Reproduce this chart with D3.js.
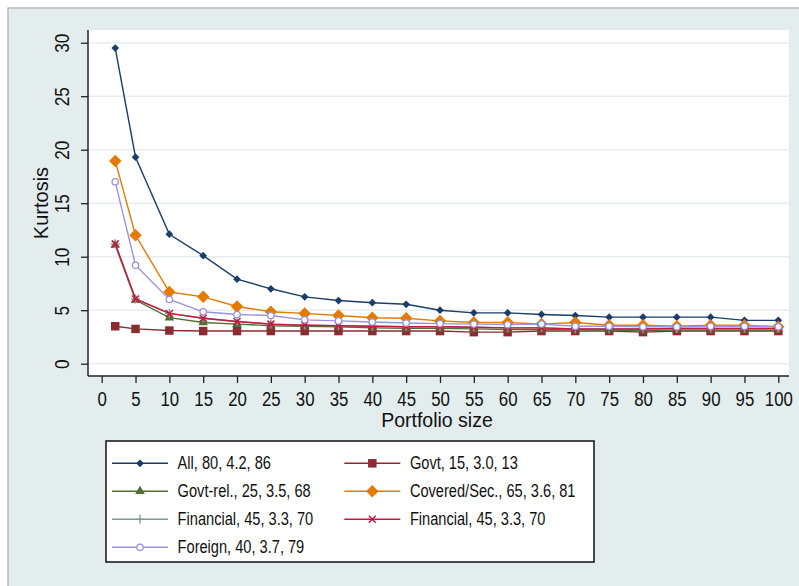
<!DOCTYPE html>
<html>
<head>
<meta charset="utf-8">
<script src="https://cdn.jsdelivr.net/npm/d3@7"></script>
<style>
  body { margin: 0; background: #ffffff; }
  svg text { font-family: "Liberation Sans", Arial, sans-serif; fill: #111; }
</style>
</head>
<body>
<div id="dataviz"></div>
<script>
// portfolio sizes on the x axis
var portfolioSizes = [2, 5, 10, 15, 20, 25, 30, 35, 40, 45, 50, 55, 60, 65, 70, 75, 80, 85, 90, 95, 100];

var seriesLabels = [
    "All, 80, 4.2, 86",
    "Govt, 15, 3.0, 13",
    "Govt-rel., 25, 3.5, 68",
    "Covered/Sec., 65, 3.6, 81",
    "Financial, 45, 3.3, 70",
    "Financial, 45, 3.3, 70",
    "Foreign, 40, 3.7, 79"
];

// kurtosis values
var allValues       = [29.5, 19.3, 12.1, 10.1, 7.9, 7.0, 6.25, 5.9, 5.7, 5.55, 5.0, 4.75, 4.75, 4.6, 4.5, 4.35, 4.35, 4.35, 4.35, 4.05, 4.05];
var govtValues      = [3.5, 3.25, 3.1, 3.05, 3.05, 3.05, 3.05, 3.05, 3.05, 3.05, 3.05, 2.95, 2.95, 3.05, 3.05, 3.05, 2.95, 3.05, 3.05, 3.05, 3.05];
var govtRelValues   = [11.1, 5.95, 4.3, 3.85, 3.7, 3.55, 3.5, 3.45, 3.35, 3.3, 3.3, 3.25, 3.2, 3.2, 3.2, 3.15, 3.1, 3.15, 3.15, 3.15, 3.15];
var coveredValues   = [18.95, 12.0, 6.7, 6.25, 5.35, 4.85, 4.7, 4.5, 4.3, 4.25, 4.0, 3.85, 3.85, 3.7, 3.85, 3.6, 3.6, 3.5, 3.6, 3.6, 3.45];
var financialValues = [11.2, 6.05, 4.7, 4.25, 3.95, 3.7, 3.6, 3.55, 3.5, 3.45, 3.45, 3.4, 3.35, 3.35, 3.25, 3.25, 3.25, 3.3, 3.3, 3.3, 3.3];
var financial2Values = [11.2, 6.05, 4.7, 4.25, 3.95, 3.7, 3.6, 3.55, 3.5, 3.45, 3.45, 3.4, 3.35, 3.35, 3.25, 3.25, 3.25, 3.3, 3.3, 3.3, 3.3];
var foreignValues   = [17.0, 9.2, 6.0, 4.85, 4.6, 4.5, 4.1, 4.0, 3.9, 3.8, 3.75, 3.7, 3.65, 3.7, 3.5, 3.5, 3.45, 3.45, 3.5, 3.5, 3.45];

var yTicks = [0, 5, 10, 15, 20, 25, 30];
var xTicks = d3.range(0, 101, 5);

var seriesValues = [allValues, govtValues, govtRelValues, coveredValues, financialValues, financial2Values, foreignValues];
var seriesColors = ["#1a3d6a", "#8b2b32", "#4f7030", "#e57a00", "#7c9a8e", "#c8163f", "#9c92dc"];
var seriesShapes = ["diamond", "square", "triangle", "bigdiamond", "plus", "times", "circle"];

var W = 799, H = 586;
var frame = {left: 88, right: 789, top: 30, bottom: 376};
var narrow = 0.82; // the original font is a narrow face

var svg = d3.select("#dataviz")
    .append("svg")
        .attr("width", W)
        .attr("height", H);

// outer graph region with grey edge
svg.append("rect")
    .attr("x", 8).attr("y", 8)
    .attr("width", W).attr("height", H)
    .attr("fill", "#e4edee")
    .attr("stroke", "#b0b0b0")
    .attr("stroke-width", 1.3);

// plot region
svg.append("rect")
    .attr("x", frame.left).attr("y", frame.top)
    .attr("width", frame.right - frame.left)
    .attr("height", frame.bottom - frame.top)
    .attr("fill", "#ffffff");

var x = d3.scaleLinear()
    .domain([0, 100])
    .range([frame.left + 13.7, frame.right - 10.7]);

var y = d3.scaleLinear()
    .domain([0, 30])
    .range([363.7, 42.7]);

// grid lines
svg.append("g")
    .selectAll("line")
    .data(yTicks)
    .enter()
    .append("line")
        .attr("x1", frame.left)
        .attr("x2", frame.right)
        .attr("y1", function(d) { return y(d); })
        .attr("y2", function(d) { return y(d); })
        .attr("stroke", "#e6eef0")
        .attr("stroke-width", 1.6);

// Y axis
var yAxis = svg.append("g")
    .attr("transform", "translate(" + frame.left + ",0)")
    .call(d3.axisLeft(y).tickValues(yTicks).tickSize(7).tickPadding(0));
yAxis.select(".domain").remove();
yAxis.selectAll("line").attr("stroke", "#222").attr("stroke-width", 1.3);
yAxis.selectAll("text")
    .attr("x", 0).attr("dy", null)
    .attr("transform", "translate(-26,0) rotate(-90) scale(" + narrow + ",1)")
    .attr("dominant-baseline", "central")
    .style("text-anchor", "middle")
    .style("font-size", "21px");

// X axis
var xAxis = svg.append("g")
    .attr("transform", "translate(0," + frame.bottom + ")")
    .call(d3.axisBottom(x).tickValues(xTicks).tickSize(7).tickPadding(8));
xAxis.select(".domain").remove();
xAxis.selectAll("line").attr("stroke", "#222").attr("stroke-width", 1.3);
xAxis.selectAll("text")
    .attr("transform", "scale(" + narrow + ",1)")
    .style("font-size", "20.5px");

// axis lines spanning the whole plot frame
svg.append("line")
    .attr("x1", frame.left).attr("x2", frame.left)
    .attr("y1", frame.top).attr("y2", frame.bottom)
    .attr("stroke", "#222").attr("stroke-width", 1.5);
svg.append("line")
    .attr("x1", frame.left).attr("x2", frame.right)
    .attr("y1", frame.bottom).attr("y2", frame.bottom)
    .attr("stroke", "#222").attr("stroke-width", 1.5);

// axis titles
svg.append("text")
    .attr("transform", "translate(41," + 203 + ") rotate(-90)")
    .attr("dominant-baseline", "central")
    .text("Kurtosis")
        .style("text-anchor", "middle")
        .style("font-size", "20px");

svg.append("text")
    .attr("x", 437)
    .attr("y", 427)
    .text("Portfolio size")
        .style("text-anchor", "middle")
        .style("font-size", "19.5px");

// marker drawing
function drawMarker(g, shape, color) {
    if (shape == "diamond" || shape == "bigdiamond") {
        g.append("path")
            .attr("d", d3.symbol().type(d3.symbolSquare).size(shape == "diamond" ? 30 : 78)())
            .attr("transform", "rotate(45)")
            .attr("fill", color);
    } else if (shape == "square") {
        g.append("path")
            .attr("d", d3.symbol().type(d3.symbolSquare).size(72)())
            .attr("fill", color);
    } else if (shape == "triangle") {
        g.append("path")
            .attr("d", d3.symbol().type(d3.symbolTriangle).size(40)())
            .attr("fill", color);
    } else if (shape == "plus") {
        g.append("path")
            .attr("d", "M-4.5,0H4.5M0,-4.5V4.5")
            .attr("stroke", color).attr("stroke-width", 1.3).attr("fill", "none");
    } else if (shape == "times") {
        g.append("path")
            .attr("d", "M-3.5,-3.5L3.5,3.5M-3.5,3.5L3.5,-3.5")
            .attr("stroke", color).attr("stroke-width", 1.5).attr("fill", "none");
    } else {
        g.append("circle")
            .attr("r", 3.2)
            .attr("fill", "#ffffff")
            .attr("stroke", color).attr("stroke-width", 1.3);
    }
}

var line = d3.line()
    .x(function(d) { return x(d[0]); })
    .y(function(d) { return y(d[1]); });

// series lines and markers
seriesValues.forEach(function(values, i) {
    var pts = portfolioSizes.map(function(s, j) { return [s, values[j]]; });
    svg.append("path")
        .datum(pts)
        .attr("d", line)
        .attr("fill", "none")
        .attr("stroke", seriesColors[i])
        .attr("stroke-width", 1.4);
    pts.forEach(function(p) {
        var g = svg.append("g").attr("transform", "translate(" + x(p[0]) + "," + y(p[1]) + ")");
        drawMarker(g, seriesShapes[i], seriesColors[i]);
    });
});

// legend
var legend = {left: 106, top: 441, width: 488, height: 121};
svg.append("rect")
    .attr("x", legend.left).attr("y", legend.top)
    .attr("width", legend.width).attr("height", legend.height)
    .attr("fill", "#ffffff")
    .attr("stroke", "#111")
    .attr("stroke-width", 1.5);

seriesLabels.forEach(function(label, i) {
    var col = i % 2, row = Math.floor(i / 2);
    var lx = legend.left + 6 + col * 232.3;
    var ly = legend.top + 22.3 + row * 28;
    svg.append("line")
        .attr("x1", lx).attr("x2", lx + 56)
        .attr("y1", ly).attr("y2", ly)
        .attr("stroke", seriesColors[i])
        .attr("stroke-width", 1.4);
    var g = svg.append("g").attr("transform", "translate(" + (lx + 28) + "," + ly + ")");
    drawMarker(g, seriesShapes[i], seriesColors[i]);
    svg.append("text")
        .attr("transform", "translate(" + (lx + 65.6) + "," + ly + ") scale(0.79,1)")
        .attr("dominant-baseline", "central")
        .text(label)
            .style("font-size", "18.5px");
});
</script>
</body>
</html>
